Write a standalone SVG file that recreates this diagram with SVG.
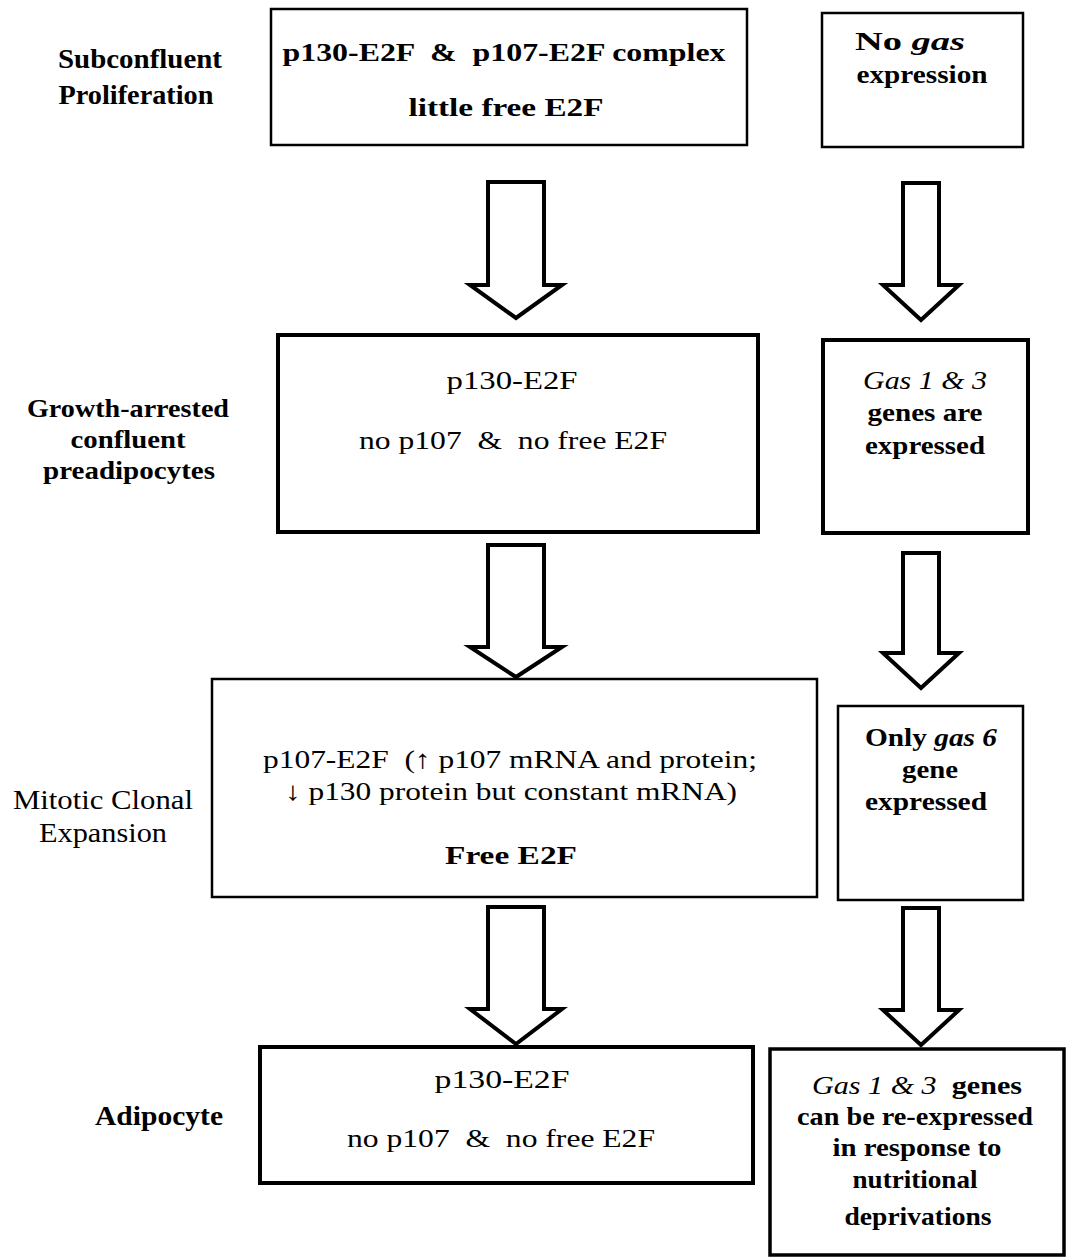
<svg xmlns="http://www.w3.org/2000/svg" width="1079" height="1257" viewBox="0 0 1079 1257">
<style>
text{font-family:"Liberation Serif","Times New Roman",serif;fill:#000;text-anchor:middle}
.b{font-weight:bold}
.lab{font-size:28px;font-weight:bold}
.lab2{font-size:25px;font-weight:bold}
.t{font-size:26px}
.i{font-style:italic}
.box{fill:#fff;stroke:#000}
.thin{stroke-width:2.5}
.thick{stroke-width:4}
.arr{fill:#fff;stroke:#000;stroke-width:4;stroke-linejoin:miter}
</style>
<rect width="1079" height="1257" fill="#fff"/>

<g id="labels">
<text class="lab" x="140" y="68" textLength="164" lengthAdjust="spacingAndGlyphs">Subconfluent</text>
<text class="lab" x="136" y="104" textLength="155" lengthAdjust="spacingAndGlyphs">Proliferation</text>
<text class="lab2" x="128" y="417" textLength="202" lengthAdjust="spacingAndGlyphs">Growth-arrested</text>
<text class="lab2" x="128" y="448" textLength="115" lengthAdjust="spacingAndGlyphs">confluent</text>
<text class="lab2" x="129" y="479" textLength="172" lengthAdjust="spacingAndGlyphs">preadipocytes</text>
<text class="lab" x="103" y="809" textLength="180" lengthAdjust="spacingAndGlyphs" style="font-weight:normal">Mitotic Clonal</text>
<text class="lab" x="103" y="842" textLength="128" lengthAdjust="spacingAndGlyphs" style="font-weight:normal">Expansion</text>
<text class="lab" x="159" y="1125" textLength="128" lengthAdjust="spacingAndGlyphs">Adipocyte</text>
</g>

<g id="connectors">
<path class="arr" d="M488,182 H544 V285 H562 L516,318 L470,285 H488 Z"/>
<path class="arr" d="M903,183 H939 V285 H959 L921,320 L883,285 H903 Z"/>
<path class="arr" d="M488,545 H544 V647 H562 L516,677 L470,647 H488 Z"/>
<path class="arr" d="M903,553 H939 V653 H959 L921,688 L883,653 H903 Z"/>
<path class="arr" d="M488,907 H544 V1009 H562 L516,1044 L470,1009 H488 Z"/>
<path class="arr" d="M903,908 H939 V1010 H959 L921,1045 L883,1010 H903 Z"/>
</g>

<g id="n1">
<rect class="box thin" x="271" y="9" width="476" height="136"/>
<text class="t b" x="504" y="61" textLength="443" lengthAdjust="spacingAndGlyphs" xml:space="preserve">p130-E2F  &amp;  p107-E2F complex</text>
<text class="t b" x="506" y="116" textLength="195" lengthAdjust="spacingAndGlyphs">little free E2F</text>
</g>

<g id="n2">
<rect class="box thin" x="822" y="13" width="201" height="134"/>
<text class="t b" x="910" y="50" textLength="110" lengthAdjust="spacingAndGlyphs">No <tspan class="i">gas</tspan></text>
<text class="t b" x="922" y="83" textLength="131" lengthAdjust="spacingAndGlyphs">expression</text>
</g>

<g id="n3">
<rect class="box thick" x="278" y="335" width="480" height="197"/>
<text class="t" x="512" y="389" textLength="131" lengthAdjust="spacingAndGlyphs">p130-E2F</text>
<text class="t" x="513" y="449" textLength="308" lengthAdjust="spacingAndGlyphs" xml:space="preserve">no p107  &amp;  no free E2F</text>
</g>

<g id="n4">
<rect class="box thick" x="823" y="340" width="205" height="193"/>
<text class="t i" x="925" y="389" textLength="124" lengthAdjust="spacingAndGlyphs">Gas 1 &amp; 3</text>
<text class="t b" x="925" y="421" textLength="115" lengthAdjust="spacingAndGlyphs">genes are</text>
<text class="t b" x="925" y="454" textLength="120" lengthAdjust="spacingAndGlyphs">expressed</text>
</g>

<g id="n5">
<rect class="box thin" x="212" y="679" width="605" height="218"/>
<text class="t" x="510" y="768" textLength="494" lengthAdjust="spacingAndGlyphs" xml:space="preserve">p107-E2F  (↑ p107 mRNA and protein;</text>
<text class="t" x="511" y="800" textLength="452" lengthAdjust="spacingAndGlyphs">↓ p130 protein but constant mRNA)</text>
<text class="t b" x="511" y="864" textLength="132" lengthAdjust="spacingAndGlyphs">Free E2F</text>
</g>

<g id="n6">
<rect class="box thin" x="838" y="706" width="185" height="194"/>
<text class="t b" x="931" y="746" textLength="132" lengthAdjust="spacingAndGlyphs">Only <tspan class="i">gas 6</tspan></text>
<text class="t b" x="930" y="778" textLength="56" lengthAdjust="spacingAndGlyphs">gene</text>
<text class="t b" x="926" y="810" textLength="122" lengthAdjust="spacingAndGlyphs">expressed</text>
</g>

<g id="n7">
<rect class="box thick" x="260" y="1047" width="493" height="136"/>
<text class="t" x="502" y="1088" textLength="135" lengthAdjust="spacingAndGlyphs">p130-E2F</text>
<text class="t" x="501" y="1147" textLength="308" lengthAdjust="spacingAndGlyphs" xml:space="preserve">no p107  &amp;  no free E2F</text>
</g>

<g id="n8">
<rect class="box" style="stroke-width:3.5" x="770" y="1049" width="294" height="206"/>
<text class="t" x="917" y="1094" textLength="210" lengthAdjust="spacingAndGlyphs" xml:space="preserve"><tspan class="i">Gas 1 &amp; 3</tspan>  <tspan class="b">genes</tspan></text>
<text class="t b" x="915" y="1125" textLength="236" lengthAdjust="spacingAndGlyphs">can be re-expressed</text>
<text class="t b" x="917" y="1156" textLength="169" lengthAdjust="spacingAndGlyphs">in response to</text>
<text class="t b" x="915" y="1188" textLength="125" lengthAdjust="spacingAndGlyphs">nutritional</text>
<text class="t b" x="918" y="1225" textLength="147" lengthAdjust="spacingAndGlyphs">deprivations</text>
</g>
</svg>
